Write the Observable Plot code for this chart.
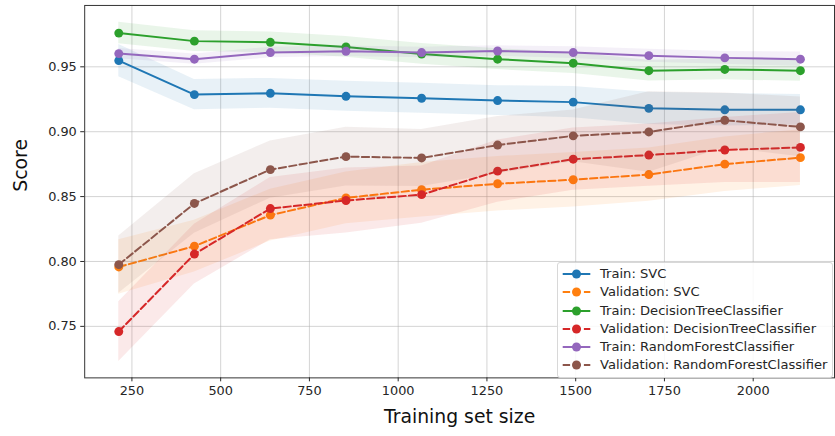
<!DOCTYPE html>
<html><head><meta charset="utf-8">
<script src="https://cdn.jsdelivr.net/npm/d3@7"></script>
<script src="https://cdn.jsdelivr.net/npm/@observablehq/plot@0.6"></script>
<style>
html,body{margin:0;padding:0;overflow:hidden;background:#fff;}
#wrap{position:relative;width:835px;height:436px;overflow:hidden;font-family:"DejaVu Sans",sans-serif;}
#wrap svg.plot{position:absolute;left:0;top:0;}
#legend{position:absolute;left:557px;top:262px;width:276px;height:116px;background:rgba(255,255,255,0.85);border:1px solid #d8d8d8;border-radius:3px;box-sizing:border-box;}
.row{position:absolute;left:0;height:18px;font-size:13.1px;color:#262626;white-space:nowrap;}
.row svg{position:absolute;left:0;top:0;}
.row span{position:absolute;left:42px;top:0;line-height:18px;}
</style></head><body><div id="wrap"></div>
<script>
const sizes = [213, 426, 640, 853, 1066, 1280, 1493, 1706, 1920, 2133];
const seriesNames = ["Train: SVC", "Validation: SVC", "Train: DecisionTreeClassifier", "Validation: DecisionTreeClassifier", "Train: RandomForestClassifier", "Validation: RandomForestClassifier"];
const seriesColors = ["#1f77b4", "#ff7f0e", "#2ca02c", "#d62728", "#9467bd", "#8c564b"];
const seriesDashed = [false, true, false, true, false, true];

const trainSVC = [0.9548, 0.9286, 0.9296, 0.9273, 0.9258, 0.9240, 0.9228, 0.9180, 0.9169, 0.9169];
const valSVC   = [0.7958, 0.8118, 0.8357, 0.8490, 0.8553, 0.8599, 0.8630, 0.8670, 0.8750, 0.8800];
const trainDT  = [0.9760, 0.9698, 0.9689, 0.9653, 0.9599, 0.9559, 0.9528, 0.9470, 0.9480, 0.9470];
const valDT    = [0.7460, 0.8057, 0.8408, 0.8470, 0.8515, 0.8696, 0.8788, 0.8820, 0.8859, 0.8879];
const trainRF  = [0.9602, 0.9559, 0.9610, 0.9620, 0.9610, 0.9622, 0.9610, 0.9586, 0.9569, 0.9559];
const valRF    = [0.7976, 0.8447, 0.8708, 0.8808, 0.8798, 0.8897, 0.8968, 0.8998, 0.9088, 0.9037];

const stdTrainSVC = [0.0125, 0.0117, 0.0115, 0.0115, 0.0115, 0.0115, 0.0120, 0.0125, 0.0125, 0.0117];
const stdValSVC   = [0.0210, 0.0200, 0.0200, 0.0200, 0.0210, 0.0210, 0.0210, 0.0205, 0.0210, 0.0215];
const stdTrainDT  = [0.0083, 0.0080, 0.0080, 0.0080, 0.0080, 0.0080, 0.0080, 0.0080, 0.0080, 0.0082];
const stdValDT    = [0.0230, 0.0230, 0.0240, 0.0250, 0.0220, 0.0240, 0.0240, 0.0240, 0.0250, 0.0270];
const stdTrainRF  = [0.0040, 0.0040, 0.0040, 0.0040, 0.0040, 0.0040, 0.0045, 0.0050, 0.0050, 0.0055];
const stdValRF    = [0.0220, 0.0230, 0.0220, 0.0226, 0.0220, 0.0220, 0.0200, 0.0310, 0.0210, 0.0230];

const xTicks = [250, 500, 750, 1000, 1250, 1500, 1750, 2000];
const yTicks = [0.75, 0.80, 0.85, 0.90, 0.95];

const means = [trainSVC, valSVC, trainDT, valDT, trainRF, valRF];
const stds = [stdTrainSVC, stdValSVC, stdTrainDT, stdValDT, stdTrainRF, stdValRF];

const rows = [];
seriesNames.forEach((name, i) => {
  sizes.forEach((s, j) => {
    rows.push({series: name, idx: i, size: s, mean: means[i][j], lo: means[i][j] - stds[i][j], hi: means[i][j] + stds[i][j]});
  });
});

const marks = [
  Plot.gridX(xTicks, {stroke: "#b0b0b0", strokeOpacity: 0.55, strokeWidth: 1}),
  Plot.gridY(yTicks, {stroke: "#b0b0b0", strokeOpacity: 0.55, strokeWidth: 1})
];
for (let m = 0; m < 3; m++) {
  for (const i of [2*m, 2*m+1]) {
    const d = rows.filter(r => r.idx === i);
    marks.push(Plot.areaY(d, {x: "size", y1: "lo", y2: "hi", fill: seriesColors[i], fillOpacity: 0.1}));
  }
  for (const i of [2*m, 2*m+1]) {
    const d = rows.filter(r => r.idx === i);
    marks.push(Plot.line(d, {x: "size", y: "mean", stroke: seriesColors[i], strokeWidth: 2, strokeDasharray: seriesDashed[i] ? "7.4,3.2" : null}));
    marks.push(Plot.dot(d, {x: "size", y: "mean", fill: seriesColors[i], r: 4.5, stroke: "none"}));
  }
}
marks.push(
  Plot.frame({stroke: "#333", strokeWidth: 1}),
  Plot.axisX(xTicks, {tickSize: 4, tickPadding: 4, fontSize: 13, label: null, tickFormat: d3.format("d"), color: "#262626"}),
  Plot.axisY(yTicks, {tickSize: 4, tickPadding: 4, fontSize: 13, label: null, tickFormat: d3.format(".2f"), color: "#262626"}),
  Plot.text(["Training set size"], {frameAnchor: "bottom", dy: 39, fontSize: 19, fill: "#111", lineAnchor: "middle"}),
  Plot.text(["Score"], {frameAnchor: "left", dx: -64, rotate: -90, fontSize: 19, fill: "#111", lineAnchor: "middle"})
);

const chart = Plot.plot({
  width: 843, height: 436,
  marginLeft: 85, marginRight: 1, marginTop: 5, marginBottom: 55,
  style: {fontFamily: "DejaVu Sans", background: "transparent"},
  x: {domain: [117, 2229]},
  y: {domain: [0.7103, 0.9973]},
  marks
});
const wrap = document.getElementById("wrap");
wrap.appendChild(chart);

const leg = document.createElement("div");
leg.id = "legend";
seriesNames.forEach((name, i) => {
  const r = document.createElement("div");
  r.className = "row";
  r.style.top = (2.3 + i * 18.1) + "px";
  r.style.width = "270px";
  const dash = seriesDashed[i] ? ' stroke-dasharray="7.4,3.2"' : '';
  r.innerHTML = `<svg width="40" height="18"><line x1="4.7" x2="32.3" y1="9" y2="9" stroke="${seriesColors[i]}" stroke-width="2"${dash}/><circle cx="18.5" cy="9" r="4.5" fill="${seriesColors[i]}"/></svg><span>${name}</span>`;
  leg.appendChild(r);
});
wrap.appendChild(leg);
</script>
</body></html>
